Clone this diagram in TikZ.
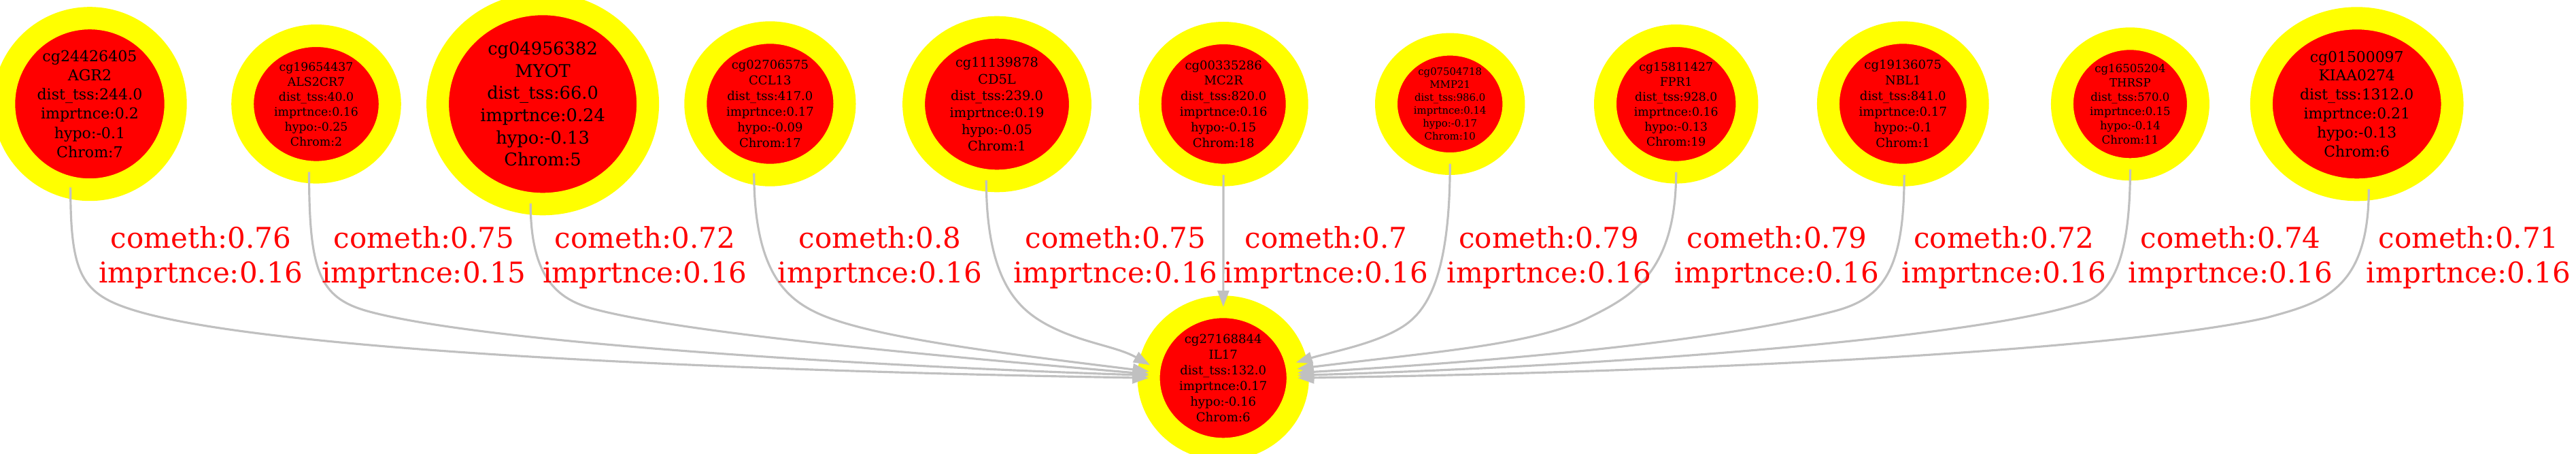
\documentclass[tikz,border=0pt]{standalone}
\usepackage{fontspec}
\setmainfont{DejaVu Serif}
\definecolor{cpgred}{RGB}{255, 0, 0}
\definecolor{ringyellow}{RGB}{255, 255, 0}
\definecolor{linkgray}{RGB}{192, 192, 192}
\usetikzlibrary{shapes.geometric, arrows.meta}
\newcommand{\genefont}[2]{\fontsize{#1pt}{#2pt}\selectfont}

\begin{document}
\begin{tikzpicture}[
  cpg/.style={ellipse, fill=cpgred, draw=ringyellow, line width=0.33cm, outer sep=0pt, inner sep=0pt, align=center},
  link/.style={draw=linkgray, line width=0.9pt, -{Triangle[length=0.24cm, width=0.17cm]}},
  elabel/.style={text=cpgred, align=center, inner sep=0pt, font=\genefont{11.95}{14.5}}
]
  \useasboundingbox (0, 0) rectangle (37.88, 6.66);

  % Top row: the eleven CpG sites
  \node[cpg, minimum width=2.524cm, minimum height=2.52cm, font=\genefont{6.29}{8.02}] (n1) at (1.32, 5.133)
    {cg24426405\\AGR2\\dist\_tss:244.0\\imprtnce:0.2\\hypo:-0.1\\Chrom:7};
  \node[cpg, minimum width=2.166cm, minimum height=2.006cm, font=\genefont{4.92}{6.26}] (n2) at (4.65, 5.132)
    {cg19654437\\ALS2CR7\\dist\_tss:40.0\\imprtnce:0.16\\hypo:-0.25\\Chrom:2};
  \node[cpg, minimum width=3.09cm, minimum height=2.94cm, font=\genefont{7.31}{9.3}] (n3) at (7.981, 5.132)
    {cg04956382\\MYOT\\dist\_tss:66.0\\imprtnce:0.24\\hypo:-0.13\\Chrom:5};
  \node[cpg, minimum width=2.192cm, minimum height=2.094cm, font=\genefont{5.12}{6.52}] (n4) at (11.324, 5.135)
    {cg02706575\\CCL13\\dist\_tss:417.0\\imprtnce:0.17\\hypo:-0.09\\Chrom:17};
  \node[cpg, minimum width=2.448cm, minimum height=2.256cm, font=\genefont{5.52}{7.03}] (n5) at (14.66, 5.13)
    {cg11139878\\CD5L\\dist\_tss:239.0\\imprtnce:0.19\\hypo:-0.05\\Chrom:1};
  \node[cpg, minimum width=2.16cm, minimum height=2.086cm, font=\genefont{5.12}{6.52}] (n6) at (17.992, 5.132)
    {cg00335286\\MC2R\\dist\_tss:820.0\\imprtnce:0.16\\hypo:-0.15\\Chrom:18};
  \node[cpg, minimum width=1.874cm, minimum height=1.754cm, font=\genefont{4.24}{5.41}] (n7) at (21.322, 5.132)
    {cg07504718\\MMP21\\dist\_tss:986.0\\imprtnce:0.14\\hypo:-0.17\\Chrom:10};
  \node[cpg, minimum width=2.084cm, minimum height=2.006cm, font=\genefont{4.92}{6.26}] (n8) at (24.647, 5.132)
    {cg15811427\\FPR1\\dist\_tss:928.0\\imprtnce:0.16\\hypo:-0.13\\Chrom:19};
  \node[cpg, minimum width=2.198cm, minimum height=2.094cm, font=\genefont{5.15}{6.54}] (n9) at (27.983, 5.135)
    {cg19136075\\NBL1\\dist\_tss:841.0\\imprtnce:0.17\\hypo:-0.1\\Chrom:1};
  \node[cpg, minimum width=2.0cm, minimum height=1.92cm, font=\genefont{4.72}{6.0}] (n10) at (31.324, 5.132)
    {cg16505204\\THRSP\\dist\_tss:570.0\\imprtnce:0.15\\hypo:-0.14\\Chrom:11};
  \node[cpg, minimum width=2.806cm, minimum height=2.52cm, font=\genefont{6.23}{7.94}] (n11) at (34.657, 5.132)
    {cg01500097\\KIAA0274\\dist\_tss:1312.0\\imprtnce:0.21\\hypo:-0.13\\Chrom:6};

  % Bottom: the common target
  \node[cpg, minimum width=2.192cm, minimum height=2.09cm, font=\genefont{5.15}{6.54}] (il) at (17.987, 1.107)
    {cg27168844\\IL17\\dist\_tss:132.0\\imprtnce:0.17\\hypo:-0.16\\Chrom:6};

  % Edges into the target: drop down, bend, then sweep in
  \draw[link] (n1.257) .. controls +(0, -1.29) and +(-0.8, 0.24) .. (2.0, 2.093)
    .. controls +(2.0, -0.6) and +(-6.0, 0.1) .. (il.180);
  \draw[link] (n2.264) .. controls +(0, -1.45) and +(-0.7, 0.2) .. (5.39, 2.093)
    .. controls +(1.6, -0.45) and +(-4.5, 0.15) .. (il.178.5);
  \draw[link] (n3.263) .. controls +(0, -1.1) and +(-0.5, 0.14) .. (8.706, 2.127)
    .. controls +(1.3, -0.35) and +(-3.5, 0.3) .. (il.177);
  \draw[link] (n4.257) .. controls +(0, -1.45) and +(-0.45, 0.21) .. (12.02, 2.06)
    .. controls +(0.8, -0.37) and +(-2.0, 0.25) .. (il.175);
  \draw[link] (n5.262) .. controls +(0, -1.5) and +(-0.4, 0.22) .. (15.39, 1.893)
    .. controls +(0.5, -0.27) and +(-0.5, 0.28) .. (il.170);
  \draw[link] (n6) -- (il);
  \draw[link] (n7.south) .. controls +(0, -1.8) and +(0.35, 0.2) .. (20.57, 1.827)
    .. controls +(-0.4, -0.23) and +(0.5, 0.15) .. (il.12);
  \draw[link] (n8.south) .. controls +(0, -1.5) and +(0.6, 0.3) .. (23.36, 1.993)
    .. controls +(-0.8, -0.4) and +(2.0, 0.25) .. (il.7);
  \draw[link] (n9.271) .. controls +(0, -1.4) and +(0.7, 0.19) .. (26.99, 2.093)
    .. controls +(-1.5, -0.4) and +(3.5, 0.2) .. (il.4);
  \draw[link] (n10.south) .. controls +(0, -1.3) and +(0.4, 0.15) .. (30.667, 2.227)
    .. controls +(-1.4, -0.5) and +(5.0, 0.15) .. (il.2);
  \draw[link] (n11.278) .. controls +(0, -1.5) and +(0.8, 0.22) .. (33.333, 1.993)
    .. controls +(-2.0, -0.45) and +(6.5, 0.1) .. (il.east);

  % Edge labels
  \node[elabel] (l1) at (2.955, 2.873) {cometh:0.76\\imprtnce:0.16};
  \node[elabel] (l2) at (6.235, 2.873) {cometh:0.75\\imprtnce:0.15};
  \node[elabel] (l3) at (9.484, 2.873) {cometh:0.72\\imprtnce:0.16};
  \node[elabel] (l4) at (12.94, 2.873) {cometh:0.8\\imprtnce:0.16};
  \node[elabel] (l5) at (16.405, 2.873) {cometh:0.75\\imprtnce:0.16};
  \node[elabel] (l6) at (19.50, 2.873) {cometh:0.7\\imprtnce:0.16};
  \node[elabel] (l7) at (22.778, 2.873) {cometh:0.79\\imprtnce:0.16};
  \node[elabel] (l8) at (26.13, 2.873) {cometh:0.79\\imprtnce:0.16};
  \node[elabel] (l9) at (29.468, 2.873) {cometh:0.72\\imprtnce:0.16};
  \node[elabel] (l10) at (32.80, 2.873) {cometh:0.74\\imprtnce:0.16};
  \node[elabel] (l11) at (36.30, 2.873) {cometh:0.71\\imprtnce:0.16};
\end{tikzpicture}
\end{document}
